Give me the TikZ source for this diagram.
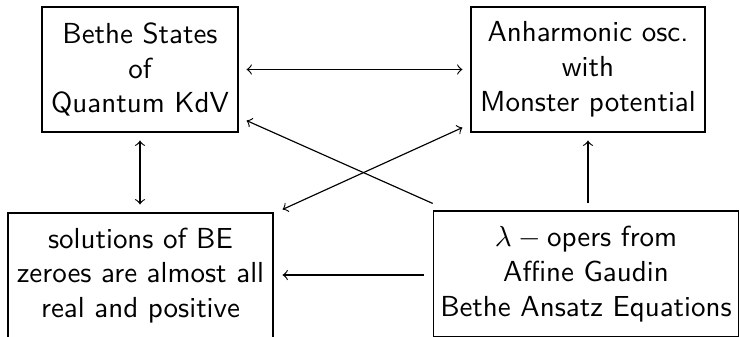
\documentclass[tikz,border=0pt]{standalone}
\usetikzlibrary{calc}
\begin{document}
\begin{tikzpicture}[x=0.345pt,y=-0.345pt,
  box/.style={draw,line width=0.4pt,align=center,font=\sffamily,inner sep=0pt,anchor=center},
  conn/.style={line width=0.4pt}]
\useasboundingbox (0,0) rectangle (740,336);
\node[box,minimum width=196*0.345pt,minimum height=125*0.345pt] (A) at (140,69.5) {Bethe States\\of\\Quantum KdV};
\node[box,minimum width=234*0.345pt,minimum height=125*0.345pt] (B) at (588,69.5) {Anharmonic osc.\\with\\Monster potential};
\node[box,minimum width=265*0.345pt,minimum height=125*0.345pt] (C) at (140.5,275.5) {solutions of BE\\zeroes are almost all\\real and positive};
\node[box,minimum width=305.5*0.345pt,minimum height=126*0.345pt] (D) at (586,274) {$\lambda-{}$opers from\\Affine Gaudin\\Bethe Ansatz Equations};
% A <-> B
\draw[conn,<->] ($(A.east)+(8,0)$) -- ($(B.west)+(-8,0)$);
% A <-> C
\draw[conn,<->] ($(A.south)+(0,8)$) -- ($(A.south |- C.north)+(0,-8)$);
% D -> A
\draw[conn,->] ($(D.north west)+(0,-7)$) -- ($(A.south east)+(8,-12)$);
% C <-> B
\draw[conn,<->] ($(C.north east)+(9,-3)$) -- ($(B.south west)+(-8,-5)$);
% D -> B
\draw[conn,->] ($(B.south |- D.north)+(0,-7)$) -- ($(B.south)+(0,8)$);
% D -> C
\draw[conn,->] ($(D.west)+(-9,1)$) -- ($(C.east)+(9,-0.5)$);
\end{tikzpicture}
\end{document}
